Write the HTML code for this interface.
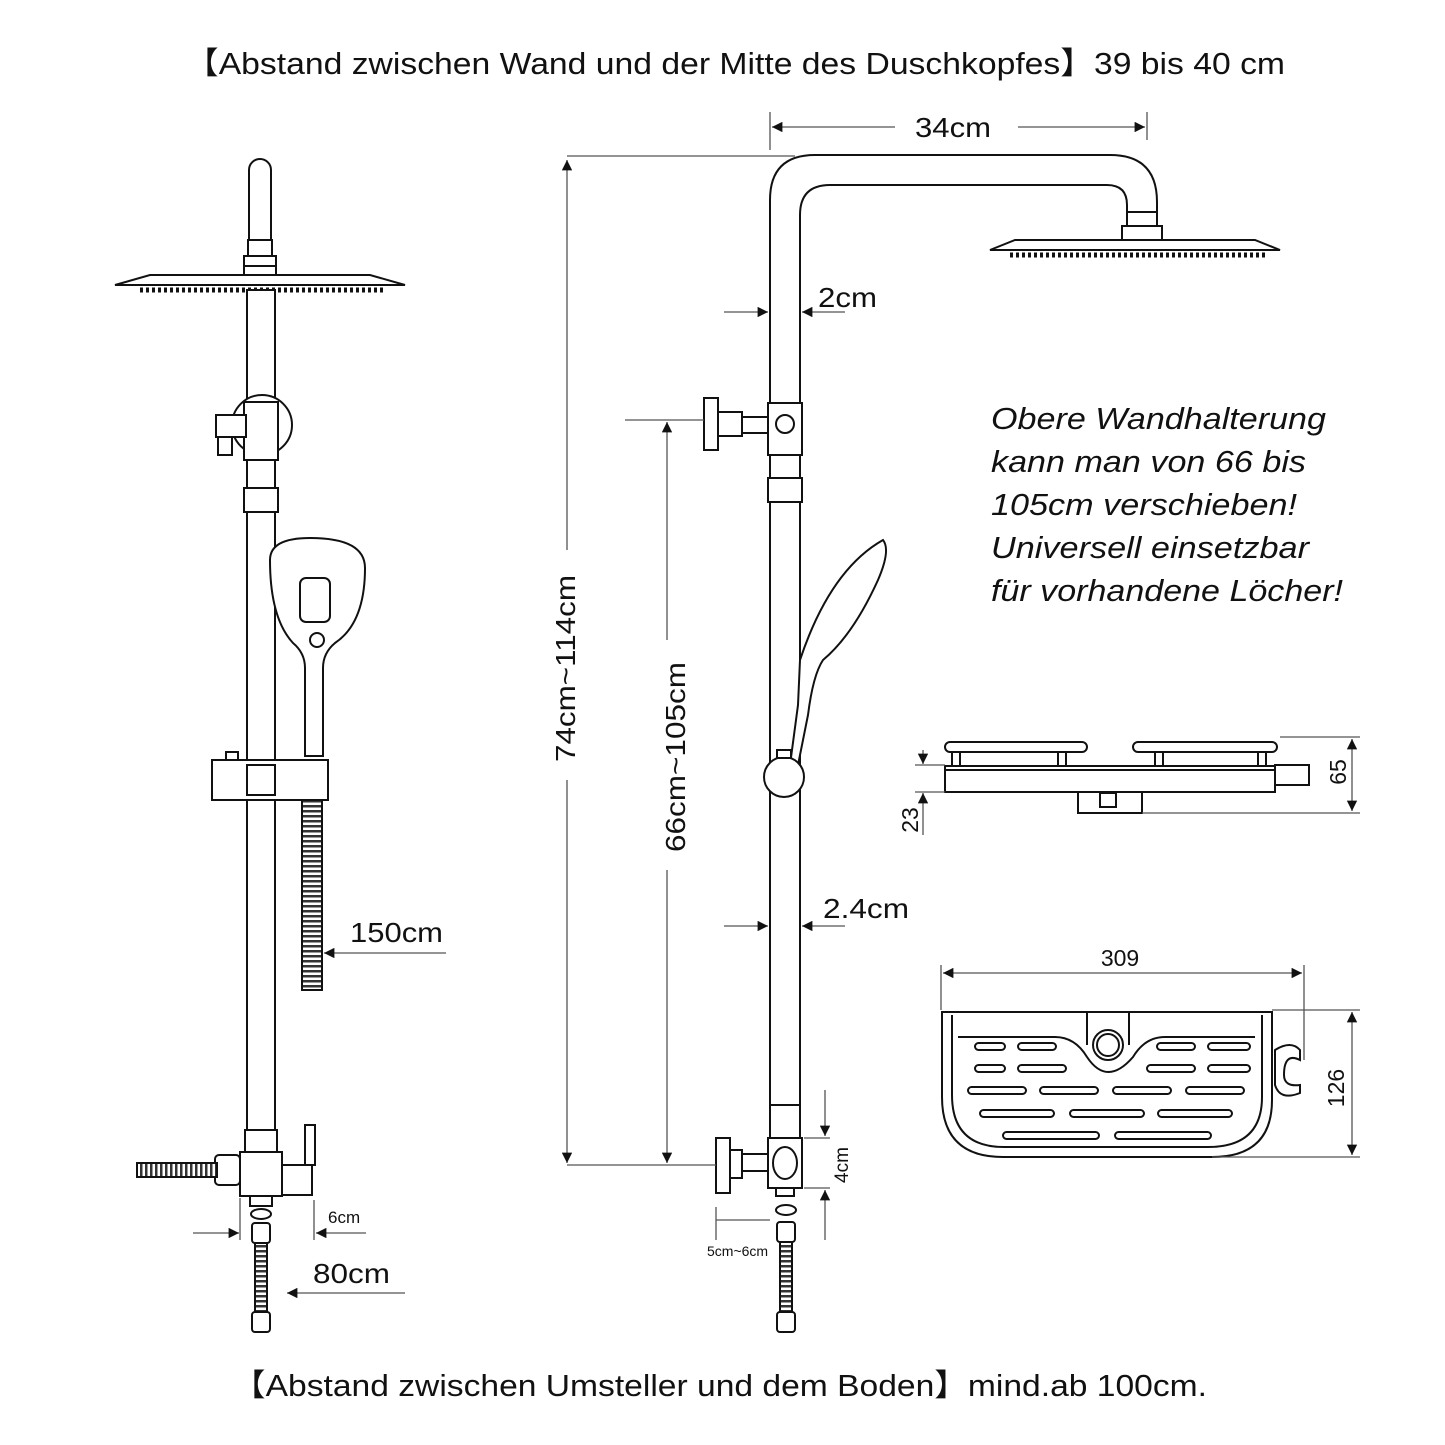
<!DOCTYPE html>
<html><head><meta charset="utf-8"><style>
html,body{margin:0;padding:0;background:#fff;}
svg{display:block;}
text{font-family:"Liberation Sans","Noto Sans CJK SC",sans-serif;fill:#111;}
</style></head><body>
<svg width="1445" height="1445" viewBox="0 0 1445 1445" xmlns="http://www.w3.org/2000/svg">
<defs>
<marker id="a" viewBox="0 0 10 10" refX="10" refY="5" markerWidth="10" markerHeight="8" orient="auto-start-reverse"><path d="M0,0L10,5L0,10z" fill="#111"/></marker>
<pattern id="hose" width="5" height="10" patternUnits="userSpaceOnUse"><rect width="5" height="10" fill="#fff"/><rect width="2.5" height="10" fill="#333"/></pattern>
<pattern id="hosev" width="10" height="5" patternUnits="userSpaceOnUse"><rect width="10" height="5" fill="#fff"/><rect width="10" height="2.5" fill="#333"/></pattern>
</defs>
<text x="185" y="74" font-size="31" textLength="1100" lengthAdjust="spacingAndGlyphs">【Abstand zwischen Wand und der Mitte des Duschkopfes】39 bis 40 cm</text>
<text x="232" y="1396" font-size="31" textLength="975" lengthAdjust="spacingAndGlyphs">【Abstand zwischen Umsteller und dem Boden】mind.ab 100cm.</text>

<g fill="#fff" stroke="#111" stroke-width="2">
<!-- LEFT FIGURE -->
<path d="M249,245 V170 a11,11 0 0 1 22,0 V245z"/>
<rect x="248" y="240" width="24" height="16"/>
<rect x="244" y="256" width="32" height="10"/>
<rect x="244" y="266" width="32" height="10"/>
<path d="M115,285 L150,275 H370 L405,285z"/>
<line x1="140" y1="290" x2="385" y2="290" stroke-dasharray="3,3" stroke-width="5"/>
<rect x="247" y="290" width="28" height="840"/>
<circle cx="262" cy="425" r="30"/>
<rect x="244" y="402" width="34" height="58"/>
<rect x="216" y="415" width="30" height="22"/>
<rect x="218" y="437" width="14" height="18"/>
<rect x="244" y="488" width="34" height="24"/>
<path d="M270,560 q0,-22 40,-22 q55,0 55,30 q0,55 -30,75 q-12,10 -12,25 v88 h-18 v-88 q0,-15 -12,-25 q-23,-25 -23,-83z"/>
<rect x="300" y="578" width="30" height="44" rx="6"/>
<circle cx="317" cy="640" r="7"/>
<rect x="212" y="760" width="116" height="40"/>
<rect x="247" y="765" width="28" height="30"/>
<rect x="226" y="752" width="12" height="8"/>
<rect x="302" y="800" width="20" height="190" fill="url(#hosev)"/>
<rect x="245" y="1130" width="32" height="22"/>
<rect x="240" y="1152" width="42" height="44"/>
<rect x="282" y="1165" width="30" height="30"/>
<rect x="305" y="1125" width="10" height="40"/>
<rect x="215" y="1155" width="25" height="30" rx="4"/>
<rect x="137" y="1163" width="80" height="14" fill="url(#hose)"/>
<rect x="250" y="1196" width="22" height="10"/>
<ellipse cx="261" cy="1214" rx="10" ry="5"/>
<rect x="252" y="1223" width="18" height="20" rx="3"/>
<rect x="255" y="1243" width="12" height="72" fill="url(#hosev)"/>
<rect x="252" y="1312" width="18" height="20" rx="3"/>

<!-- MIDDLE FIGURE -->
<path d="M770,1145 V200 q0,-45 45,-45 H1110 q47,0 47,47 V212 H1127 V205 q0,-20 -20,-20 H830 q-30,0 -30,30 V1145z"/>
<rect x="1127" y="212" width="30" height="14"/>
<rect x="1122" y="226" width="40" height="14"/>
<path d="M990,250 L1015,240 H1255 L1280,250z"/>
<line x1="1010" y1="255" x2="1265" y2="255" stroke-dasharray="3,3" stroke-width="5"/>
<rect x="768" y="403" width="34" height="52"/>
<circle cx="785" cy="424" r="9"/>
<rect x="741" y="417" width="27" height="16"/>
<rect x="704" y="398" width="14" height="52"/>
<rect x="718" y="412" width="24" height="24"/>
<rect x="768" y="478" width="34" height="24"/>
<path d="M800,660 q30,-90 83,-120 q8,10 -5,40 q-25,55 -55,80 q-10,15 -15,55 l-10,50 h-8 l8,-60z"/>
<circle cx="784" cy="777" r="20"/>
<rect x="777" y="750" width="14" height="8"/>
<rect x="770" y="1105" width="30" height="33"/>
<rect x="768" y="1138" width="34" height="50"/>
<ellipse cx="785" cy="1163" rx="12" ry="16"/>
<rect x="741" y="1154" width="27" height="17"/>
<rect x="716" y="1138" width="14" height="55"/>
<rect x="730" y="1150" width="12" height="28"/>
<rect x="776" y="1188" width="18" height="8"/>
<ellipse cx="786" cy="1210" rx="10" ry="5"/>
<rect x="777" y="1222" width="18" height="20" rx="3"/>
<rect x="780" y="1242" width="12" height="72" fill="url(#hosev)"/>
<rect x="777" y="1312" width="18" height="20" rx="3"/>

<!-- soap top view -->
<rect x="945" y="742" width="142" height="10" rx="5"/>
<rect x="1133" y="742" width="144" height="10" rx="5"/>
<rect x="952" y="752" width="8" height="14"/><rect x="1058" y="752" width="8" height="14"/>
<rect x="1155" y="752" width="8" height="14"/><rect x="1258" y="752" width="8" height="14"/>
<rect x="945" y="766" width="330" height="26"/>
<line x1="945" y1="770" x2="1275" y2="770"/>
<rect x="1275" y="765" width="34" height="20"/>
<rect x="1078" y="792" width="64" height="21"/>
<rect x="1100" y="793" width="16" height="14"/>

<!-- soap bottom view -->
<path d="M942,1012 H1272 V1100 q0,57 -60,57 H1003 q-61,0 -61,-60z"/>
<path d="M952,1015 V1095 q0,52 52,52 H1208 q54,0 54,-50 V1015"/>
<path d="M958,1037 H1055 q20,0 32,20 q20,30 46,0 q12,-20 32,-20 H1255"/>
<path d="M1087,1012 V1045 M1129,1012 V1045"/>
<circle cx="1108" cy="1045" r="15"/><circle cx="1108" cy="1045" r="11"/>
<path d="M1275,1050 q16,-10 25,0 v10 q-16,-8 -16,15 q0,12 16,10 v8 q-20,8 -25,-8z"/>
</g>
<g fill="#fff" stroke="#111" stroke-width="2">
<rect x="975" y="1043" width="30" height="7" rx="3.5"/><rect x="1018" y="1043" width="38" height="7" rx="3.5"/>
<rect x="1157" y="1043" width="38" height="7" rx="3.5"/><rect x="1208" y="1043" width="42" height="7" rx="3.5"/>
<rect x="975" y="1065" width="30" height="7" rx="3.5"/><rect x="1018" y="1065" width="48" height="7" rx="3.5"/>
<rect x="1147" y="1065" width="48" height="7" rx="3.5"/><rect x="1208" y="1065" width="42" height="7" rx="3.5"/>
<rect x="968" y="1087" width="58" height="7" rx="3.5"/><rect x="1040" y="1087" width="58" height="7" rx="3.5"/>
<rect x="1113" y="1087" width="58" height="7" rx="3.5"/><rect x="1186" y="1087" width="58" height="7" rx="3.5"/>
<rect x="980" y="1110" width="74" height="7" rx="3.5"/><rect x="1070" y="1110" width="74" height="7" rx="3.5"/><rect x="1158" y="1110" width="74" height="7" rx="3.5"/>
<rect x="1003" y="1132" width="96" height="7" rx="3.5"/><rect x="1115" y="1132" width="96" height="7" rx="3.5"/>
</g>

<!-- dimension lines -->
<g stroke="#555" stroke-width="1.3" fill="none">
<line x1="770" y1="112" x2="770" y2="150"/><line x1="1147" y1="112" x2="1147" y2="140"/>
<line x1="772" y1="127" x2="895" y2="127" marker-start="url(#a)"/>
<line x1="1018" y1="127" x2="1145" y2="127" marker-end="url(#a)"/>
<line x1="567" y1="156" x2="795" y2="156"/>
<line x1="567" y1="160" x2="567" y2="550" marker-start="url(#a)"/>
<line x1="567" y1="780" x2="567" y2="1163" marker-end="url(#a)"/>
<line x1="567" y1="1165" x2="716" y2="1165"/>
<line x1="625" y1="420" x2="704" y2="420"/>
<line x1="667" y1="422" x2="667" y2="640" marker-start="url(#a)"/>
<line x1="667" y1="870" x2="667" y2="1163" marker-end="url(#a)"/>
<line x1="724" y1="312" x2="768" y2="312" marker-end="url(#a)"/>
<line x1="845" y1="312" x2="802" y2="312" marker-end="url(#a)"/>
<line x1="724" y1="926" x2="768" y2="926" marker-end="url(#a)"/>
<line x1="845" y1="926" x2="802" y2="926" marker-end="url(#a)"/>
<line x1="446" y1="953" x2="324" y2="953" marker-end="url(#a)"/>
<line x1="193" y1="1233" x2="239" y2="1233" marker-end="url(#a)"/>
<line x1="366" y1="1233" x2="316" y2="1233" marker-end="url(#a)"/>
<line x1="240" y1="1198" x2="240" y2="1240"/><line x1="314" y1="1200" x2="314" y2="1240"/>
<line x1="405" y1="1293" x2="287" y2="1293" marker-end="url(#a)"/>
<line x1="825" y1="1090" x2="825" y2="1136" marker-end="url(#a)"/>
<line x1="825" y1="1240" x2="825" y2="1190" marker-end="url(#a)"/>
<line x1="804" y1="1138" x2="830" y2="1138"/><line x1="804" y1="1188" x2="830" y2="1188"/>
<line x1="716" y1="1207" x2="716" y2="1240"/><line x1="716" y1="1220" x2="770" y2="1220"/>
<line x1="1280" y1="737" x2="1360" y2="737"/><line x1="1142" y1="813" x2="1360" y2="813"/>
<line x1="1352" y1="739" x2="1352" y2="811" marker-start="url(#a)" marker-end="url(#a)"/>
<line x1="915" y1="765" x2="945" y2="765"/><line x1="915" y1="792" x2="945" y2="792"/>
<line x1="923" y1="750" x2="923" y2="764" marker-end="url(#a)"/>
<line x1="923" y1="835" x2="923" y2="793" marker-end="url(#a)"/>
<line x1="941" y1="965" x2="941" y2="1010"/><line x1="1304" y1="965" x2="1304" y2="1060"/>
<line x1="943" y1="973" x2="1302" y2="973" marker-start="url(#a)" marker-end="url(#a)"/>
<line x1="1272" y1="1010" x2="1360" y2="1010"/><line x1="1212" y1="1157" x2="1360" y2="1157"/>
<line x1="1352" y1="1012" x2="1352" y2="1155" marker-start="url(#a)" marker-end="url(#a)"/>
</g>

<text x="915" y="137" font-size="28" textLength="76" lengthAdjust="spacingAndGlyphs">34cm</text>
<text x="818" y="307" font-size="28" textLength="59" lengthAdjust="spacingAndGlyphs">2cm</text>
<text x="823" y="918" font-size="28" textLength="86" lengthAdjust="spacingAndGlyphs">2.4cm</text>
<text x="350" y="942" font-size="28" textLength="93" lengthAdjust="spacingAndGlyphs">150cm</text>
<text x="328" y="1223" font-size="17">6cm</text>
<text x="313" y="1283" font-size="28" textLength="77" lengthAdjust="spacingAndGlyphs">80cm</text>
<text x="707" y="1256" font-size="14">5cm~6cm</text>
<text transform="translate(575,762) rotate(-90)" font-size="28" textLength="187" lengthAdjust="spacingAndGlyphs">74cm~114cm</text>
<text transform="translate(685,852) rotate(-90)" font-size="28" textLength="190" lengthAdjust="spacingAndGlyphs">66cm~105cm</text>
<text transform="translate(848,1165) rotate(-90)" font-size="19" text-anchor="middle">4cm</text>
<text transform="translate(1346,772) rotate(-90)" font-size="23" text-anchor="middle">65</text>
<text transform="translate(918,820) rotate(-90)" font-size="23" text-anchor="middle">23</text>
<text transform="translate(1344,1088) rotate(-90)" font-size="23" text-anchor="middle">126</text>
<text x="1120" y="966" font-size="23" text-anchor="middle">309</text>
<g font-size="31" font-style="italic">
<text x="991" y="429" textLength="335" lengthAdjust="spacingAndGlyphs">Obere Wandhalterung</text>
<text x="991" y="472" textLength="315" lengthAdjust="spacingAndGlyphs">kann man von 66 bis</text>
<text x="991" y="515" textLength="306" lengthAdjust="spacingAndGlyphs">105cm verschieben!</text>
<text x="991" y="558" textLength="318" lengthAdjust="spacingAndGlyphs">Universell einsetzbar</text>
<text x="991" y="601" textLength="352" lengthAdjust="spacingAndGlyphs">für vorhandene Löcher!</text>
</g>
</svg>
</body></html>
